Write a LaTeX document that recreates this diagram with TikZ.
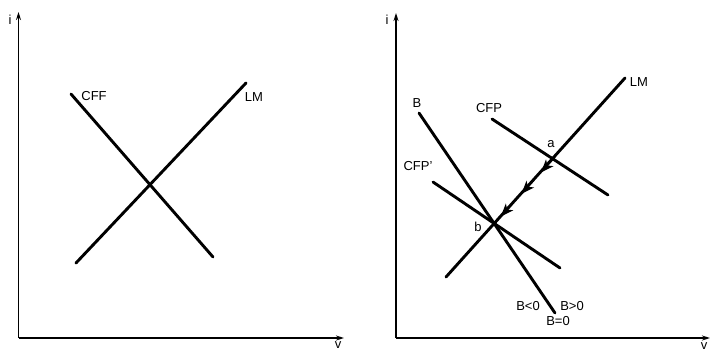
\documentclass[tikz,border=0pt]{standalone}
\usepackage{fontspec}
\setmainfont{Liberation Sans}
\usetikzlibrary{arrows.meta}
\begin{document}
\begin{tikzpicture}[x=1pt,y=-1pt,
  axis/.style={line width=1.7pt,-{Stealth[length=8pt,width=5pt]}},
  curve/.style={line width=2.9pt,line cap=round},
  flowtip/.style={line width=1.5pt,-{Stealth[length=13pt,width=10pt,inset=3.5pt]}},
  lbl/.style={inner sep=0pt,font=\fontsize{13}{15}\selectfont}]
\useasboundingbox (0,0) rectangle (710,353);
% ---------- left panel ----------
\coordinate (O1) at (18.5,338);
\coordinate (Y1) at (18.5,12);
\coordinate (X1) at (344,338);
\draw[axis] (O1) -- (Y1);
\draw[axis] (O1) -- (X1);
\node[lbl] (i1) at (10,20) {i};
\node[lbl] (v1) at (338,345) {v};
\coordinate (cffA) at (71,94);
\coordinate (cffB) at (213,257);
\coordinate (lmA) at (76,263);
\coordinate (lmB) at (246,83);
\draw[curve] (cffA) -- (cffB);
\draw[curve] (lmA) -- (lmB);
\node[lbl] (cff) at (94,96) {CFF};
\node[lbl] (lm1) at (254,97) {LM};
% ---------- right panel ----------
\coordinate (O2) at (396,338);
\coordinate (Y2) at (396,13);
\coordinate (X2) at (710,338);
\draw[axis] (O2) -- (Y2);
\draw[axis] (O2) -- (X2);
\node[lbl] (i2) at (387,20) {i};
\node[lbl] (v2) at (704,346) {v};
\coordinate (LMa) at (446,277);
\coordinate (LMb) at (625,78);
\coordinate (Ba) at (419,113);
\coordinate (Bb) at (555,313);
\coordinate (Pa) at (492,119);
\coordinate (Pb) at (608,195);
\coordinate (Qa) at (433,182);
\coordinate (Qb) at (560,268);
\draw[curve] (LMa) -- (LMb);
\draw[curve] (Ba) -- (Bb);
\draw[curve] (Pa) -- (Pb);
\draw[curve] (Qa) -- (Qb);
\coordinate (f1s) at (555,157);
\coordinate (f1e) at (541,172.5);
\coordinate (f2s) at (533.5,180.5);
\coordinate (f2e) at (521.5,193.8);
\coordinate (f3s) at (512.4,203.8);
\coordinate (f3e) at (500.8,216.6);
\draw[flowtip] (f1s) -- (f1e);
\draw[flowtip] (f2s) -- (f2e);
\draw[flowtip] (f3s) -- (f3e);
\node[lbl] (lm2) at (639,82) {LM};
\node[lbl] (blab) at (417,103) {B};
\node[lbl] (cfp) at (489,108) {CFP};
\node[lbl] (cfpp) at (418,166) {CFP'};
\node[lbl] (alab) at (551,144) {a};
\node[lbl] (blab2) at (478,227) {b};
\node[lbl] (bneg) at (528,306) {B<0};
\node[lbl] (bpos) at (572,306) {B>0};
\node[lbl] (bzero) at (558,321) {B=0};
\end{tikzpicture}
\end{document}
